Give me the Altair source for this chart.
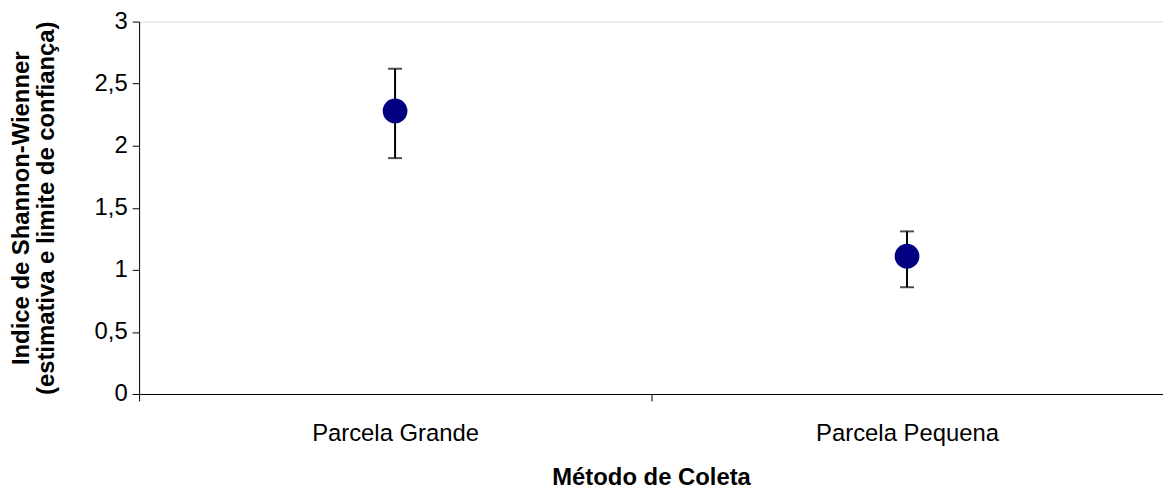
import altair as alt
import pandas as pd

categories = ["Parcela Grande", "Parcela Pequena"]
estimate = [2.28, 1.11]
lower = [1.90, 0.86]
upper = [2.62, 1.31]

df = pd.DataFrame({
    "cat": categories,
    "est": estimate,
    "lo": lower,
    "hi": upper,
})

FONT = "Liberation Sans"
xscale = alt.Scale(domain=categories, paddingInner=0, paddingOuter=0)
yscale = alt.Scale(domain=[0, 3], nice=False)

yaxis = alt.Axis(
    values=[0, 0.5, 1, 1.5, 2, 2.5, 3],
    labelExpr="replace(format(datum.value, '~g'), '.', ',')",
    grid=False, tickSize=7, tickColor="black", domainColor="black",
    labelFontSize=24, labelFont=FONT, labelColor="black", labelPadding=5,
    title=["Indice de Shannon-Wienner", "(estimativa e limite de confiança)"],
    titleFontSize=24, titleFont=FONT, titleFontWeight="bold", titleColor="black",
    titlePadding=36, titleLineHeight=25,
)

xaxis = alt.Axis(
    grid=False, tickSize=7, tickBand="extent", labelAngle=0, labelLimit=400,
    tickColor="black", domainColor="black",
    labelFontSize=24, labelFont=FONT, labelColor="black", labelPadding=21,
    title="Método de Coleta", titleFontSize=24, titleFont=FONT,
    titleFontWeight="bold", titleColor="black", titlePadding=20,
)

base = alt.Chart(df)

bars = base.mark_rule(color="black", strokeWidth=2).encode(
    x=alt.X("cat:N", scale=xscale, axis=xaxis, sort=categories),
    y=alt.Y("lo:Q", scale=yscale, axis=yaxis),
    y2="hi:Q",
)
cap_hi = base.mark_tick(color="black", thickness=2, size=14, orient="horizontal").encode(
    x=alt.X("cat:N", scale=xscale, sort=categories),
    y=alt.Y("hi:Q", scale=yscale),
)
cap_lo = base.mark_tick(color="black", thickness=2, size=14, orient="horizontal").encode(
    x=alt.X("cat:N", scale=xscale, sort=categories),
    y=alt.Y("lo:Q", scale=yscale),
)
points = base.mark_point(filled=True, color="#000080", opacity=1, size=620).encode(
    x=alt.X("cat:N", scale=xscale, sort=categories),
    y=alt.Y("est:Q", scale=yscale),
)

chart = alt.layer(bars, cap_hi, cap_lo, points).properties(
    width=1031, height=375,
    autosize=alt.AutoSizeParams(type="none"),
    padding={"left": 132, "top": 12, "right": 0, "bottom": 95},
).configure_view(stroke=None).configure(background="white")

chart.save("out.html", embed_options={"renderer": "svg", "actions": False})
